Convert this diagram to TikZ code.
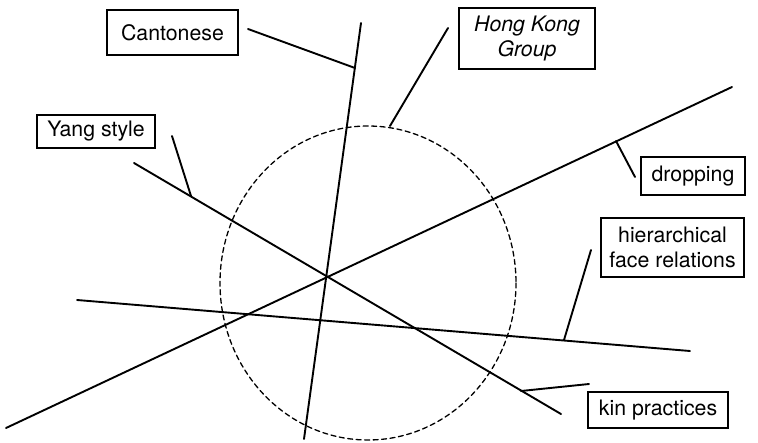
\documentclass[tikz,border=0pt]{standalone}
\usepackage{fontspec}
\setmainfont{TeX Gyre Heros}
\begin{document}
\begin{tikzpicture}[x=1pt,y=-1pt,line width=1.9pt,line cap=round,
  label box/.style={rectangle,draw,line width=1.6pt,inner sep=0pt,align=center,font=\fontsize{21.3}{25}\selectfont},
  dashed circle/.style={draw,line width=1.3pt,dash pattern=on 5pt off 3.5pt}]
    \useasboundingbox (0,0) rectangle (758,442);

    % boxes
    \node [label box, minimum width=131, minimum height=45](cantonese) at (172.5,32.5){Cantonese};
    \node [label box, minimum width=136, minimum height=61](hkgroup) at (527,38.5){\itshape Hong Kong\\\itshape Group};
    \node [label box, minimum width=118, minimum height=33](yang) at (96,131.5){Yang style};
    \node [label box, minimum width=104, minimum height=38](dropping) at (693,176){dropping};
    \node [label box, minimum width=143, minimum height=59](hier) at (672.5,247.5){hierarchical\\face relations};
    \node [label box, minimum width=140, minimum height=36](kin) at (658,410){kin practices};

    % dashed circle
    \draw [dashed circle] (368,283) ellipse [x radius=148, y radius=157];

    % long lines
    \coordinate (v1) at (361,23);  \coordinate (v2) at (304,439);
    \coordinate (r1) at (6,428);   \coordinate (r2) at (732,87);
    \coordinate (y1) at (134,163); \coordinate (y2) at (561,414);
    \coordinate (h1) at (77,300);  \coordinate (h2) at (690,351);
    \draw (v1) -- (v2);
    \draw (r1) -- (r2);
    \draw (y1) -- (y2);
    \draw (h1) -- (h2);

    % leaders
    \coordinate (c1) at (248,29);  \coordinate (c2) at (355,68);
    \coordinate (k1) at (448,28);  \coordinate (k2) at (390,126);
    \coordinate (s1) at (172,136); \coordinate (s2) at (191,196);
    \coordinate (d1) at (635,177); \coordinate (d2) at (616,141);
    \coordinate (f1) at (591,250); \coordinate (f2) at (564,340);
    \coordinate (p1) at (589,384); \coordinate (p2) at (521,391);
    \path[draw]
        (c1) edge (c2)
        (k1) edge (k2)
        (s1) edge (s2)
        (d1) edge (d2)
        (f1) edge (f2)
        (p1) edge (p2);
\end{tikzpicture}
\end{document}
